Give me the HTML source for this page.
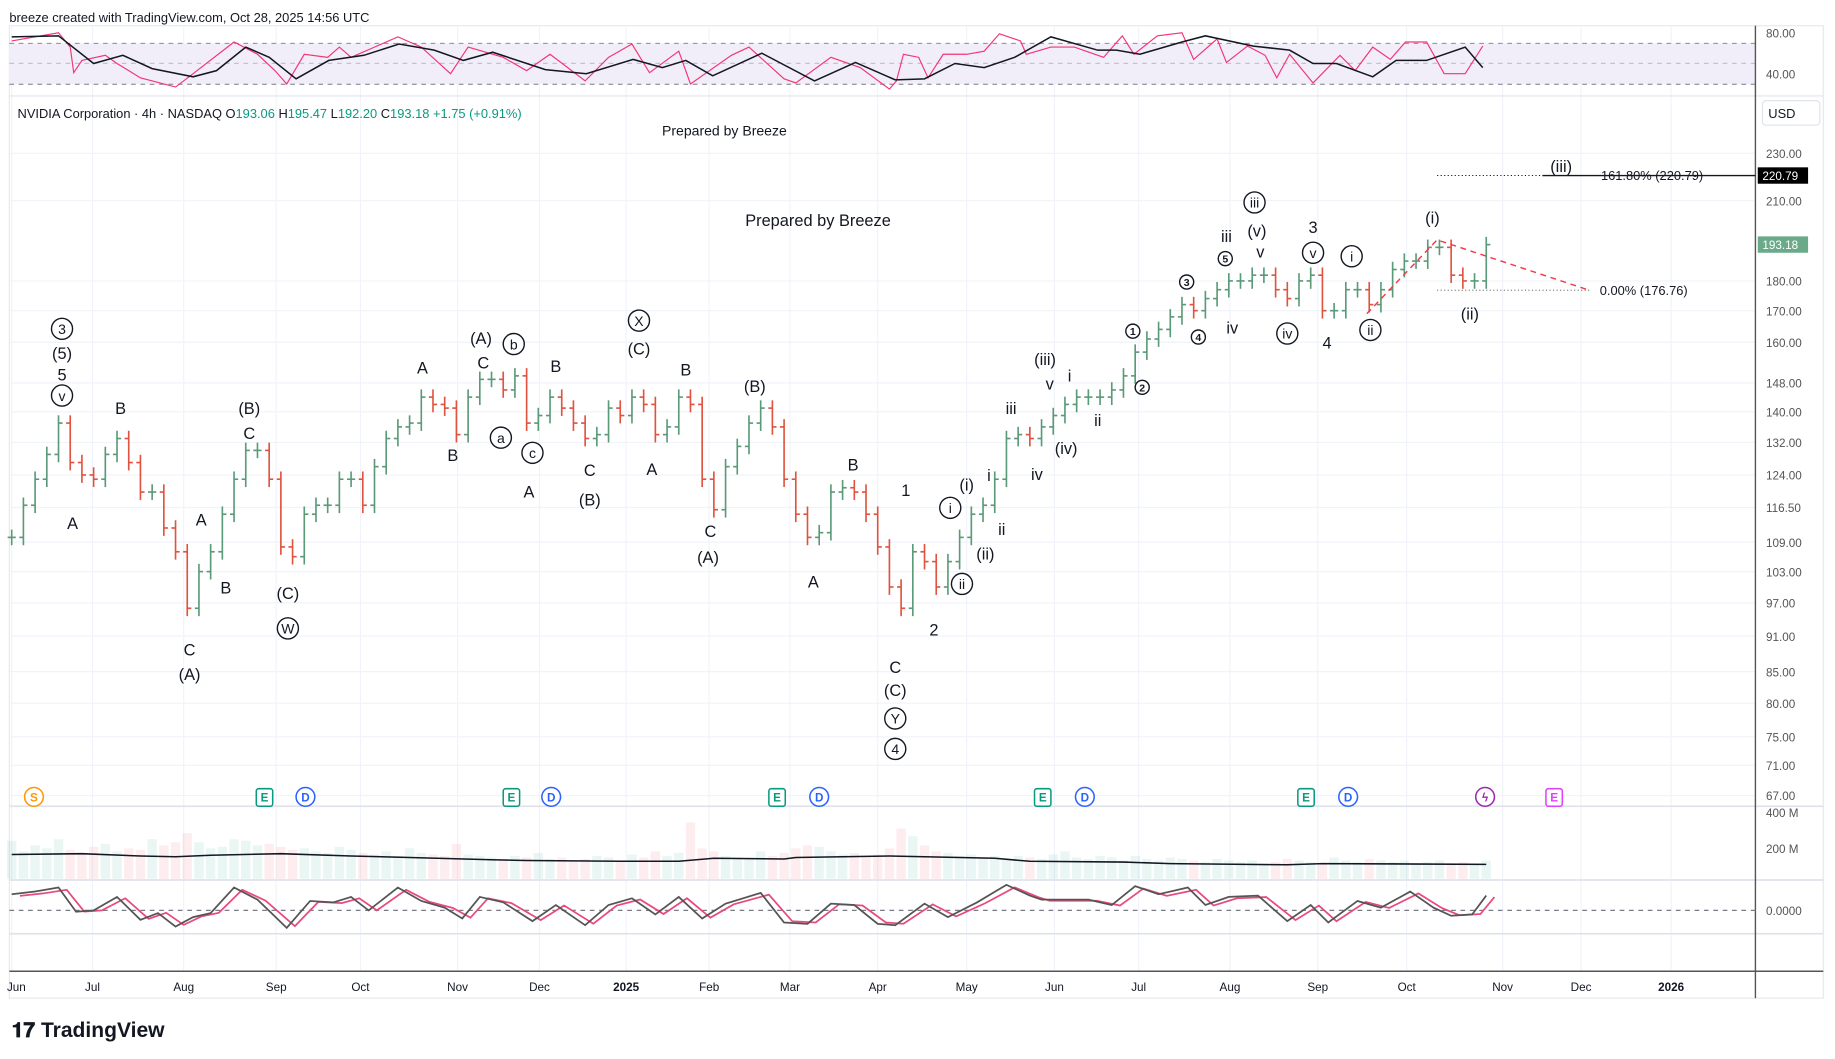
<!DOCTYPE html>
<html><head><meta charset="utf-8">
<style>
html,body{margin:0;padding:0;background:#fff;}
svg{display:block;font-family:"Liberation Sans",sans-serif;}
</style></head>
<body>
<svg id="c" width="1835" height="1059" viewBox="0 0 1568 905" preserveAspectRatio="none" xmlns="http://www.w3.org/2000/svg">
<text x="8" y="19" font-size="11" fill="#131722">breeze created with TradingView.com, Oct 28, 2025 14:56 UTC</text>
<rect x="8" y="22" width="1550" height="831" fill="none" stroke="#e6e8ee"/>
<g id="grid"></g>
<rect x="8" y="37" width="1492" height="35" fill="#f1eefa"/>
<line x1="8" x2="1500" y1="37" y2="37" stroke="#787b86" stroke-dasharray="4,4" stroke-width="0.8"/>
<line x1="8" x2="1500" y1="54" y2="54" stroke="#9598a1" stroke-dasharray="4,4" stroke-width="0.6"/>
<line x1="8" x2="1500" y1="72" y2="72" stroke="#787b86" stroke-dasharray="4,4" stroke-width="0.8"/>
<g id="rsi"></g>
<line x1="8" x2="1558" y1="82" y2="82" stroke="#e0e3eb"/>
<line x1="8" x2="1558" y1="689" y2="689" stroke="#e0e3eb" stroke-width="1.5"/>
<line x1="8" x2="1558" y1="752" y2="752" stroke="#e0e3eb" stroke-width="1.5"/>
<line x1="8" x2="1558" y1="798" y2="798" stroke="#e0e3eb" stroke-width="1.5"/>
<line x1="8" x2="1558" y1="830" y2="830" stroke="#555" stroke-width="1.2"/>
<line x1="1500" x2="1500" y1="22" y2="853" stroke="#555" stroke-width="1.2"/>
<g id="price"></g>
<g id="vol"></g>
<g id="osc"></g>
<g id="axes"></g>
<g id="ann"></g>
<text x="15" y="101" font-size="11" fill="#131722">NVIDIA Corporation · 4h · NASDAQ  O<tspan fill="#089981">193.06</tspan>  H<tspan fill="#089981">195.47</tspan>  L<tspan fill="#089981">192.20</tspan>  C<tspan fill="#089981">193.18</tspan>  <tspan fill="#089981">+1.75 (+0.91%)</tspan></text>
<text x="619" y="116" font-size="12" text-anchor="middle" fill="#131722">Prepared by Breeze</text>
<text x="699" y="193" font-size="14" text-anchor="middle" fill="#131722">Prepared by Breeze</text>
<rect x="1506" y="86" width="49" height="21" rx="3" fill="#fff" stroke="#e0e3eb"/>
<text x="1511" y="101" font-size="11" fill="#131722">USD</text>
<text x="10" y="886" font-size="18" font-weight="bold" fill="#131722">𝟏𝟕 TradingView</text>
</svg>
<script>
const prices=[110,117,123,129,137,127,124,123,129,133,127,120,120,112,107,96,103,107,115,123,130,130,123,108,106,115,117,117,123,123,117,126,133,136,137,144,142,141,134,144,149,149,146,150,137,139,144,141,137,133,134,141,139,144,142,134,136,144,142,123,116,126,131,137,141,136,123,115,110,111,120,121,120,115,108,100,96,107,105,100,105,110,115,117,123,133,134,133,136,139,142,144,144,144,146,150,157,161,164,168,172,170,174,177,180,180,182,182,177,174,180,182,170,170,177,177,172,177,184,187,187,192,192,182,180,180,193];
const vols=[250,180,220,200,260,190,170,210,230,180,200,190,260,220,240,300,240,200,210,260,250,220,230,210,190,200,180,170,210,190,170,160,180,150,200,170,160,150,230,160,150,140,130,150,140,170,130,140,120,130,150,140,120,160,140,180,150,170,370,200,180,150,140,130,180,150,170,200,220,210,180,160,170,150,160,200,330,280,220,180,170,150,160,140,150,130,150,140,130,160,180,140,130,150,140,120,150,130,120,140,130,120,110,130,120,110,120,100,110,130,120,110,100,140,120,110,130,120,110,120,100,110,120,100,110,100,120];
const volMaT=[0,6,11,14,17,23,29,34,41,44,52,57,60,66,67,75,84,87,95,99,109,112,126];
const volMaV=[160,165,150,145,155,165,150,140,125,120,115,115,135,130,140,150,135,115,110,100,92,100,95];
const rsiT=[0,4,5,5.3,6,8,9,11,14,15.5,19,21,22.5,23.5,25,27,28,29,31,33,35,37.5,39,42,44,46,49,51,53,54.5,57,58,61.5,63,66,67,70,72.5,75,75.6,76.2,77.5,78.3,79.6,81.6,83.1,84.4,86.2,86.7,88.8,90.8,93.3,94.9,95.9,97.9,100,101,103,103.8,105.6,107.1,108.1,109.2,111.2,113.5,114.8,116.3,117.8,119.1,120.9,122.4,124.2,125.7];
const rsiV=[72,80,66,41,53,58,50,36,27,40,71,59,43,30,59,56,66,56,66,76,66,40,66,56,43,59,33,56,69,41,62,30,58,66,35,31,56,46,25,33,59,56,36,59,59,62,79,72,59,66,66,56,77,59,77,80,54,74,51,67,58,36,59,31,58,43,66,54,71,71,40,40,67];
const rsiMaT=[0,4,7,9.5,12,15.5,17.5,20,22,24.3,27.1,30.1,33.1,36.1,38.6,41.1,45.6,49.1,53.1,55.6,57.6,59.9,64.1,68.6,72.1,75.5,78,80.6,83.1,85.7,88.8,92.8,94.4,96.4,100,102,106.1,109.2,111.2,113.2,116.3,118.3,120.9,124.2,125.7];
const rsiMaV=[76,77,50,58,45,37,43,66,56,35,53,58,69,63,53,61,44,40,54,46,53,38,60,33,51,34,35,50,46,56,76,63,63,59,71,77,67,63,50,50,37,53,53,66,46,52];
const oscT=[0,2,4,5.5,7,9,11,12.5,14,15.5,17,19,21,23.5,25.5,27.5,29,30.5,33,35,37,38.5,40,42,44.5,46.5,49,51,53,55,57,59,61,64,66,68,70,72,74,75.5,78,80,82.5,85,87,88,90,92,94,96,98,100.5,102,104,106.5,109,111,112.5,115,117,119.5,121.5,123,124.8,126];
const oscV=[0.6,0.7,0.85,-0.05,0,0.5,-0.35,-0.1,-0.6,-0.25,-0.1,0.85,0.4,-0.65,0.35,0.3,0.5,0,0.85,0.35,0.1,-0.3,0.5,0.3,-0.4,0.2,-0.55,0.2,0.45,-0.15,0.5,-0.3,0.25,0.65,-0.45,-0.5,0.25,0.2,-0.5,-0.55,0.25,-0.25,0.3,0.95,0.55,0.4,0.4,0.4,0.2,0.9,0.6,0.85,0.2,0.5,0.55,-0.4,0.2,-0.45,0.35,0.1,0.7,0.1,-0.2,-0.15,0.55];
const priceTicks=[230,210,180,170,160,148,140,132,124,116.5,109,103,97,91,85,80,75,71,67];
const monthLabels=["Jun","Jul","Aug","Sep","Oct","Nov","Dec","2025","Feb","Mar","Apr","May","Jun","Jul","Aug","Sep","Oct","Nov","Dec","2026"];
const monthT=[0,6.9,14.7,22.6,29.8,38.1,45.1,52.5,59.6,66.5,74,81.6,89.1,96.3,104.1,111.6,119.2,127.4,134.1,141.8];

const NS="http://www.w3.org/2000/svg";
const xS=t=>10+t*10;
const yP=p=>131+(Math.log(230)-Math.log(p))*445;
const yR=v=>28+(80-v)*0.875;
const yV=v=>751-v*0.13;
const yO=v=>778-v*23;
function mk(tag,attrs,parent){const e=document.createElementNS(NS,tag);for(const k in attrs)e.setAttribute(k,attrs[k]);parent.appendChild(e);return e;}
const G=id=>document.getElementById(id);

monthT.forEach(t=>{const l=mk('line',{x1:xS(t),x2:xS(t),y1:22,y2:830,stroke:'#f0f3fa'},G('grid'));

});
priceTicks.forEach(p=>{const l=mk('line',{x1:8,x2:1500,y1:yP(p),y2:yP(p),stroke:'#f0f3fa'},G('grid'));

});

prices.forEach((p,i)=>{const o=i?prices[i-1]:p;const up=p>=o;const col=up?'#5b9a78':'#e0533f';
const hi=Math.max(o,p)*1.015, lo=Math.min(o,p)*0.985;const x=xS(i);
const g=mk('g',{stroke:col,'stroke-width':1.4},G('price'));


mk('line',{x1:x,x2:x,y1:yP(hi),y2:yP(lo)},g);
mk('line',{x1:x-3.5,x2:x,y1:yP(o),y2:yP(o)},g);
mk('line',{x1:x,x2:x+3.5,y1:yP(p),y2:yP(p)},g);});

const pts=(T,V,fy)=>T.map((t,i)=>xS(t)+','+fy(V[i])).join(' ');
let r=mk('polyline',{points:pts(rsiT,rsiV,yR),fill:'none',stroke:'#f23674','stroke-width':1},G('rsi'));


r=mk('polyline',{points:pts(rsiMaT,rsiMaV,yR),fill:'none',stroke:'#131722','stroke-width':1.3},G('rsi'));



vols.forEach((v,i)=>{const up=i==0||prices[i]>=prices[i-1];
const b=mk('rect',{x:xS(i)-4,y:yV(v),width:8,height:751-yV(v),fill:up?'rgba(8,153,129,0.09)':'rgba(242,54,69,0.09)'},G('vol'));

});
r=mk('polyline',{points:pts(volMaT,volMaV,yV),fill:'none',stroke:'#131722','stroke-width':1.3},G('vol'));



mk('line',{x1:8,x2:1500,y1:yO(0),y2:yO(0),stroke:'#787b86','stroke-dasharray':'4,4'},G('osc'));
r=mk('polyline',{points:oscT.map((t,i)=>(xS(t)+7)+','+yO(oscV[i]*0.9)).join(' '),fill:'none',stroke:'#e84a7f','stroke-width':1.5},G('osc'));


r=mk('polyline',{points:pts(oscT,oscV,yO),fill:'none',stroke:'#555','stroke-width':1.5},G('osc'));



function txt(x,y,s,size,fill,anchor,parent,name){const t=mk('text',{x:x,y:y,'font-size':size,fill:fill,'text-anchor':anchor||'start'},parent);t.textContent=s;

return t;}
priceTicks.forEach(p=>txt(1509,yP(p)+4,p.toFixed(2),10,'#555','start',G('axes'),'price-tick'));
txt(1509,32,'80.00',10,'#555','start',G('axes'),'rsi-tick');
txt(1509,67,'40.00',10,'#555','start',G('axes'),'rsi-tick');
txt(1509,698,'400 M',10,'#555','start',G('axes'),'volume-tick');
txt(1509,729,'200 M',10,'#555','start',G('axes'),'volume-tick');
txt(1509,782,'0.0000',10,'#555','start',G('axes'),'osc-tick');
monthLabels.forEach((m,i)=>{const t=txt(Math.max(xS(monthT[i]),14),847,m,10,'#131722','middle',G('axes'),'time-tick');if(/^\d/.test(m))t.setAttribute('font-weight','bold');});
let tg=mk('rect',{x:1502,y:143,width:43,height:14,fill:'#000'},G('axes'));


txt(1506,154,'220.79',10,'#fff','start',G('axes'),'fib-price-label');
tg=mk('rect',{x:1502,y:202,width:43,height:14,fill:'#6aaa89'},G('axes'));


txt(1506,213,'193.18',10,'#fff','start',G('axes'),'last-price-label');

const A=G('ann');
const plain=[["B",103,349],["A",62,447],["A",172,444],["B",193,502],["C",162,555],["(A)",162,576],["(B)",213,349],["C",213,370],["(C)",246,507],["A",361,314],["B",387,389],["(A)",411,289],["C",413,310],["A",452,420],["B",475,313],["C",504,402],["(B)",504,427],["(C)",546,298],["B",586,316],["A",557,401],["C",607,454],["(A)",605,476],["(B)",645,330],["B",729,397],["A",695,497],["1",774,419],["C",765,570],["(C)",765,590],["2",798,538],["(i)",826,414],["i",845,406],["ii",856,452],["(ii)",842,473],["iii",864,349],["(iii)",893,307],["v",897,328],["i",914,321],["iv",886,405],["(iv)",911,383],["ii",938,359],["iii",1048,202],["iv",1053,280],["(v)",1074,197],["v",1077,215],["3",1122,194],["4",1134,293],["(i)",1224,186],["(ii)",1256,268],["(iii)",1334,142],["(5)",53,302],["5",53,320]];
plain.forEach(a=>txt(a[1],a[2]+5,a[0],14,'#131722','middle',A,'wave-label'));
const circ=[["3",53,281,9],["v",53,338,9],["W",246,537,9],["b",439,294,9],["a",428,374,9],["c",455,387,9],["X",546,274,9],["Y",765,614,9],["4",765,640,9],["i",812,434,9],["ii",822,499,9],["1",968,283,6],["2",976,331,6],["3",1014,241,6],["4",1024,288,6],["5",1047,221,6],["iii",1072,173,9],["iv",1100,285,9],["v",1122,216,9],["i",1155,219,9],["ii",1171,282,9]];
circ.forEach(c=>{const g=mk('g',{},A);


mk('circle',{cx:c[1],cy:c[2],r:c[3],fill:'#fff',stroke:'#131722','stroke-width':1.2},g);
const t=mk('text',{x:c[1],y:c[2]+(c[3]>7?4.5:3.5),'font-size':c[3]>7?12:9,'text-anchor':'middle',fill:'#131722','font-weight':c[3]>7?'normal':'bold'},g);t.textContent=c[0];});
let l=mk('line',{x1:1228,x2:1500,y1:150,y2:150,stroke:'#131722','stroke-dasharray':'1,2','stroke-width':0.8},A);


l=mk('line',{x1:1318,x2:1500,y1:150,y2:150,stroke:'#131722','stroke-width':1.2},A);


txt(1368,154,'161.80% (220.79)',11,'#131722','start',A,'fib-161-label');
l=mk('line',{x1:1228,x2:1358,y1:248,y2:248,stroke:'#555','stroke-dasharray':'1,2','stroke-width':0.8},A);


txt(1367,252,'0.00% (176.76)',11,'#131722','start',A,'fib-0-label');
l=mk('polyline',{points:'1168,268 1228,205 1358,248',fill:'none',stroke:'#f23645','stroke-dasharray':'5,4','stroke-width':1.2},A);


const ev=[["S",29,'#ff9800'],["E",226,'#089981'],["D",261,'#2962ff'],["E",437,'#089981'],["D",471,'#2962ff'],["E",664,'#089981'],["D",700,'#2962ff'],["E",891,'#089981'],["D",927,'#2962ff'],["E",1116,'#089981'],["D",1152,'#2962ff'],["ϟ",1269,'#9c27b0'],["E",1328,'#e040fb']];
ev.forEach(e=>{const g=mk('g',{},A);


if(e[0]==='E')mk('rect',{x:e[1]-7,y:674,width:14,height:15,rx:2,fill:'#fff',stroke:e[2],'stroke-width':1.3},g);
else mk('circle',{cx:e[1],cy:681,r:8,fill:'#fff',stroke:e[2],'stroke-width':1.3},g);
const t=mk('text',{x:e[1],y:685,'font-size':10,'text-anchor':'middle',fill:e[2],'font-weight':'bold'},g);t.textContent=e[0];});
</script>
</body></html>
